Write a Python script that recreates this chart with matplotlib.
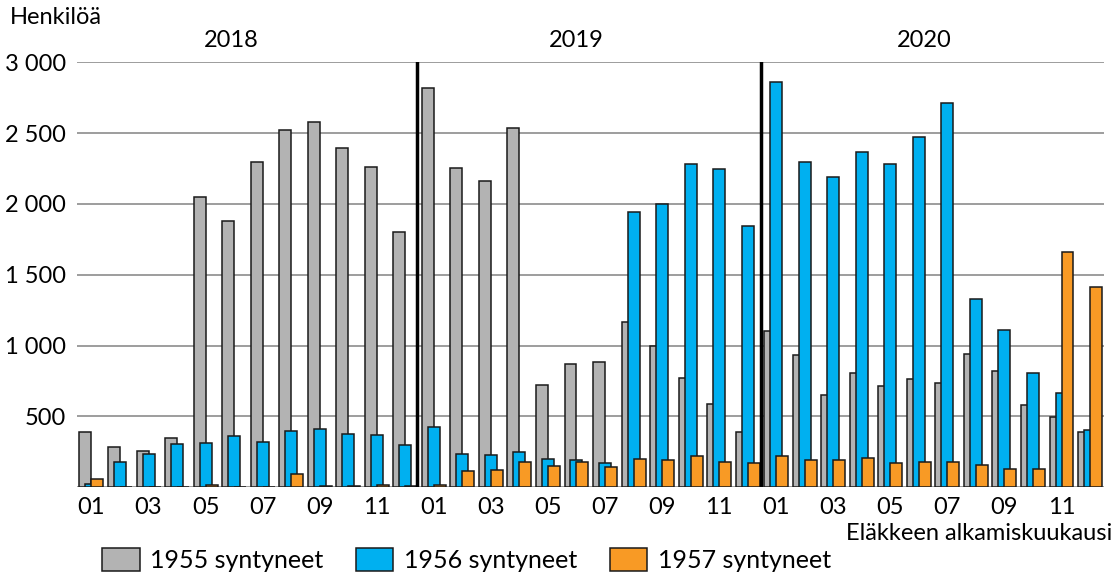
import matplotlib.pyplot as plt
import numpy as np

plt.rcParams['font.family'] = ['Lato', 'DejaVu Sans']

# kuukaudet 2018-2020
months = ["01", "02", "03", "04", "05", "06", "07", "08", "09", "10", "11", "12"] * 3
years = ["2018", "2019", "2020"]

s1955 = [393, 285, 256, 351, 2049, 1880, 2294, 2522, 2577, 2393, 2259, 1802,
         2821, 2257, 2165, 2539, 722, 873, 887, 1169, 998, 772, 586, 391,
         1106, 934, 652, 807, 718, 767, 734, 944, 819, 579, 494, 388]
s1956 = [22, 181, 233, 306, 313, 365, 322, 395, 409, 376, 369, 296,
         426, 235, 231, 247, 200, 195, 174, 1941, 2000, 2280, 2247, 1847,
         2864, 2299, 2188, 2367, 2285, 2471, 2715, 1329, 1113, 809, 664, 402]
s1957 = [56, 2, 2, 3, 14, 5, 5, 94, 8, 8, 16, 12,
         16, 113, 120, 176, 153, 181, 146, 200, 195, 219, 181, 172,
         219, 191, 195, 207, 172, 176, 181, 158, 127, 132, 1664, 1417]

labels = ["1955 syntyneet", "1956 syntyneet", "1957 syntyneet"]
colors = ["#b3b3b3", "#00b0f0", "#f89a25"]

fig = plt.figure(figsize=(11.14, 5.74), dpi=100)
ax = fig.add_axes([0.0693, 0.151, 0.9220, 0.7405])

x = np.arange(len(months))
w = 0.42
for off, data, c, lab in zip([-0.21, 0, 0.21], [s1955, s1956, s1957], colors, labels):
    ax.bar(x + off, data, width=w, color=c, edgecolor="#1a1a1a", linewidth=1.1, label=lab, zorder=3)

ax.set_xlim(-0.5, 35.5)
ax.set_ylim(0, 3000)
ax.set_yticks([0, 500, 1000, 1500, 2000, 2500, 3000])
ax.set_yticklabels(["", "500", "1 000", "1 500", "2 000", "2 500", "3 000"])
ax.set_xticks(x[::2])
ax.set_xticklabels(months[::2])
ax.tick_params(axis="both", length=0, labelsize=17)
ax.tick_params(axis="x", pad=7)
ax.tick_params(axis="y", pad=8)
ax.grid(axis="y", color="#8c8c8c", linewidth=1.2, zorder=0)
for s in ax.spines.values():
    s.set_visible(False)

# vuosirajat
for xv in [11.4, 23.45]:
    ax.axvline(xv, color="black", linewidth=2.5, zorder=4)

for xv, y in zip([4.9, 17.0, 29.2], years):
    ax.text(xv, 1.052, y, transform=ax.get_xaxis_transform(), ha="center", va="center", fontsize=17)

fig.text(0.009, 0.969, "Henkilöä", ha="left", va="center", fontsize=17)
fig.text(0.998, 0.0714, "Eläkkeen alkamiskuukausi", ha="right", va="center", fontsize=17)

fig.legend(loc="center", bbox_to_anchor=(0.4188, 0.0244), ncol=3, frameon=False, fontsize=18,
           handlelength=1.5, handleheight=1.05, handletextpad=0.42, columnspacing=1.3, borderpad=0)

fig.savefig("out.png", dpi=100)
